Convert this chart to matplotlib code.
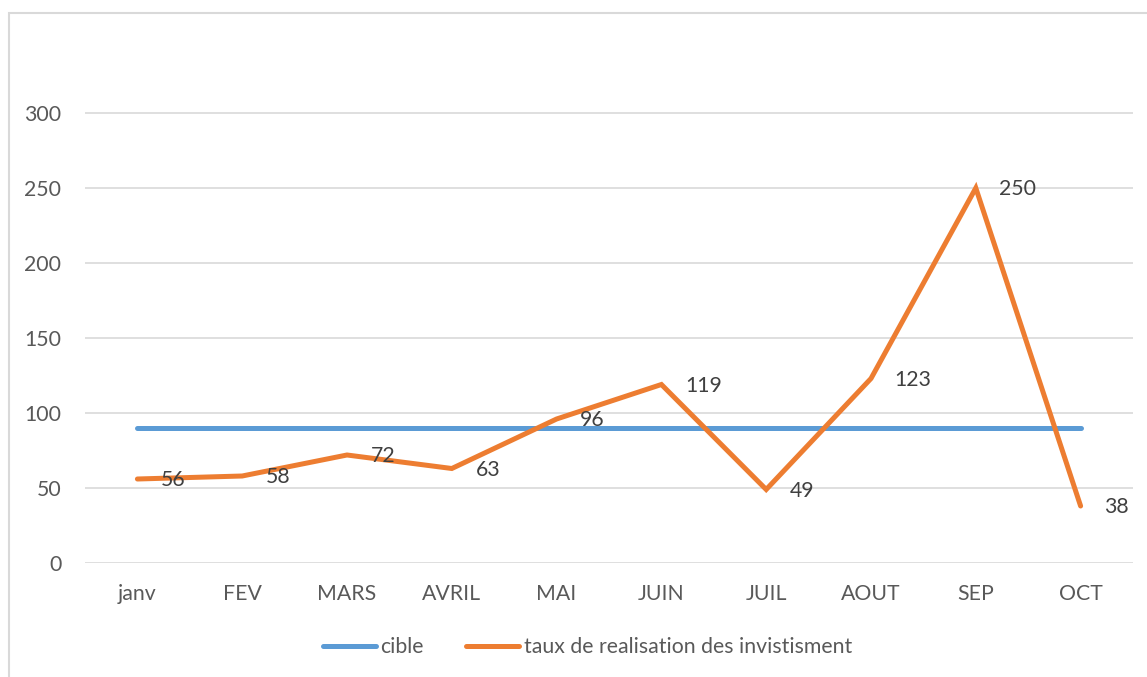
import matplotlib.pyplot as plt
from matplotlib.patches import Rectangle

months = ["janv", "FEV", "MARS", "AVRIL", "MAI", "JUIN", "JUIL", "AOUT", "SEP", "OCT"]
cible = [90, 90, 90, 90, 90, 90, 90, 90, 90, 90]
taux = [56, 58, 72, 63, 96, 119, 49, 123, 250, 38]
yticks = [0, 50, 100, 150, 200, 250, 300]

plt.rcParams['font.family'] = ['Lato', 'DejaVu Sans']
txt = '#595959'
blue = '#5B9BD5'
orange = '#ED7D31'
fs = 15.3

fig = plt.figure(figsize=(11.47, 6.77), dpi=100)
# chart border
fig.patches.append(Rectangle((9 / 1147, -0.01), 1.0, 1 - 13 / 677 + 0.01,
                             transform=fig.transFigure, fill=False,
                             edgecolor='#D9D9D9', linewidth=1.5))

ax = fig.add_axes([85 / 1147, 1 - 563 / 677, (1133 - 85) / 1147, (563 - 38) / 677])
x = list(range(len(months)))
ax.plot(x, cible, color=blue, lw=3.6, solid_capstyle='round', label='cible')
ax.plot(x, taux, color=orange, lw=3.6, solid_capstyle='round', solid_joinstyle='miter',
        label='taux de realisation des invistisment')

for xi, v in zip(x, taux):
    ax.annotate(str(v), (xi, v), xytext=(17, -1), textcoords='offset points',
                ha='left', va='center', fontsize=fs, color='#404040')

ax.set_xlim(-0.5, len(months) - 0.5)
ax.set_ylim(0, 350)
ax.set_yticks(yticks)
ax.set_xticks(x)
ax.set_xticklabels(months)
ax.grid(axis='y', color='#D9D9D9', lw=1.2)
ax.set_axisbelow(True)
for s in ax.spines.values():
    s.set_visible(False)
ax.tick_params(axis='both', length=0, labelsize=fs, colors=txt)
ax.tick_params(axis='y', pad=17)
ax.tick_params(axis='x', pad=15)

fig.legend(loc='center', bbox_to_anchor=(0.512, 1 - 647 / 677), ncol=2, frameon=False,
           fontsize=fs, labelcolor=txt, handlelength=2.5, handletextpad=0.2,
           columnspacing=2.0)

fig.savefig('out.png', dpi=100)
